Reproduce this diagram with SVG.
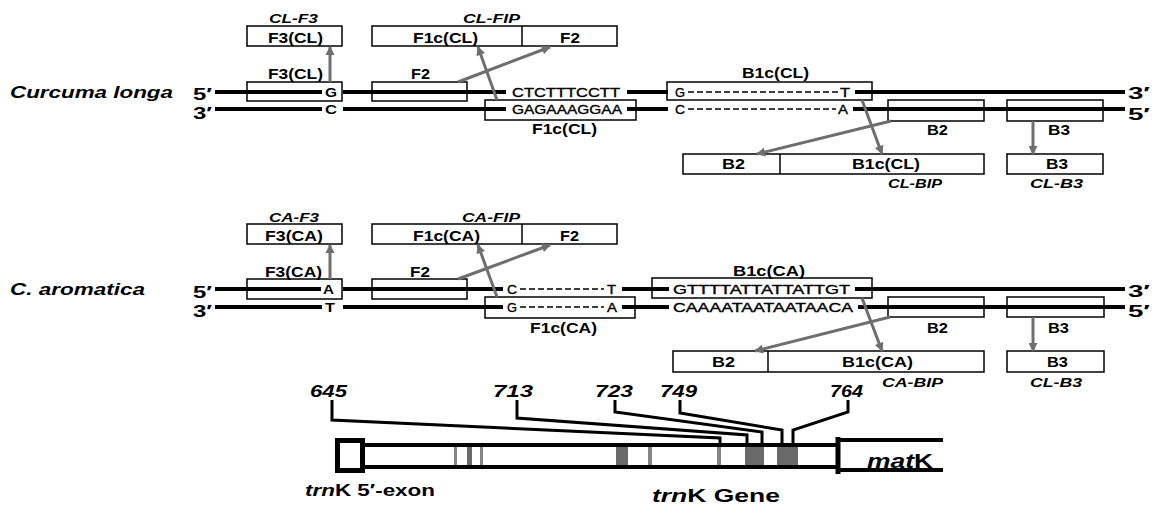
<svg xmlns="http://www.w3.org/2000/svg" width="1154" height="507" viewBox="0 0 1154 507">
<style>
.box{fill:none;stroke:#000;stroke-width:1.5}
.str{stroke:#000;stroke-width:4;fill:none}
.dash{stroke:#000;stroke-width:1.5;stroke-dasharray:6 3;fill:none}
.arr{stroke:#6e6e6e;stroke-width:3;fill:none;marker-end:url(#ah)}
.lead{stroke:#000;stroke-width:3;fill:none}
.gene{stroke:#000;stroke-width:4;fill:none}
.bar{fill:#6a6a6a}
.bar2{fill:#858585}
text{font-family:"Liberation Sans",Arial,sans-serif;font-weight:bold;font-size:14px;fill:#000}
.it{font-style:italic}
.sm{font-size:13px}
.seq{font-weight:normal;font-size:13px;stroke:#000;stroke-width:0.35}
.big{font-size:17px}
.pr{font-size:16px}
</style>
<defs>
<marker id="ah" viewBox="0 0 10 10" refX="9" refY="5" markerWidth="10" markerHeight="9" markerUnits="userSpaceOnUse" orient="auto">
<path d="M0,0 L10,5 L0,10 Z" fill="#6e6e6e"/>
</marker>
</defs>

<!-- Curcuma longa -->
<g id="cl-strands">
<text class="big it" x="10" y="98" textLength="163" lengthAdjust="spacingAndGlyphs">Curcuma longa</text>
<text class="pr" x="193" y="100" textLength="19" lengthAdjust="spacingAndGlyphs">5′</text>
<text class="pr" x="193" y="119" textLength="19" lengthAdjust="spacingAndGlyphs">3′</text>
<text class="pr" x="1128" y="99" textLength="22" lengthAdjust="spacingAndGlyphs">3′</text>
<text class="pr" x="1128" y="120" textLength="22" lengthAdjust="spacingAndGlyphs">5′</text>
<path class="str" d="M215,92 H322 M343,92 H506 M627,92 H668 M855,92 H1125"/>
<path class="str" d="M215,109 H322 M343,109 H506 M627,109 H668 M853,109 H1125"/>
<path class="dash" d="M688,92 H838 M688,109 H836"/>
<text class="seq" x="512" y="97" textLength="108" lengthAdjust="spacingAndGlyphs">CTCTTTCCTT</text>
<text class="seq" x="512" y="114" textLength="110" lengthAdjust="spacingAndGlyphs">GAGAAAGGAA</text>
<text class="seq" x="675" y="97" textLength="10" lengthAdjust="spacingAndGlyphs">G</text>
<text class="seq" x="840" y="97" textLength="10" lengthAdjust="spacingAndGlyphs">T</text>
<text class="seq" x="675" y="114" textLength="10" lengthAdjust="spacingAndGlyphs">C</text>
<text class="seq" x="838" y="114" textLength="10" lengthAdjust="spacingAndGlyphs">A</text>
</g>
<g id="cl-f3-primer">
<text class="sm it" x="269" y="23" textLength="49" lengthAdjust="spacingAndGlyphs">CL-F3</text>
<rect class="box" x="247" y="26" width="95" height="20"/>
<text x="268" y="43" textLength="55" lengthAdjust="spacingAndGlyphs">F3(CL)</text>
</g>
<g id="cl-f3-site">
<rect class="box" x="247" y="82" width="95" height="19"/>
<text x="268" y="79" textLength="55" lengthAdjust="spacingAndGlyphs">F3(CL)</text>
<text class="sm" x="325" y="97" textLength="12" lengthAdjust="spacingAndGlyphs">G</text>
<text class="sm" x="325" y="114" textLength="12" lengthAdjust="spacingAndGlyphs">C</text>
</g>
<g id="cl-fip">
<text class="sm it" x="463" y="23" textLength="57" lengthAdjust="spacingAndGlyphs">CL-FIP</text>
<rect class="box" x="372" y="26" width="245" height="20"/>
<path class="box" d="M522,26 V46"/>
<text x="413" y="43" textLength="65" lengthAdjust="spacingAndGlyphs">F1c(CL)</text>
<text x="560" y="43" textLength="20" lengthAdjust="spacingAndGlyphs">F2</text>
</g>
<g id="cl-f2-site">
<rect class="box" x="372" y="82" width="95" height="19"/>
<text x="411" y="79" textLength="19" lengthAdjust="spacingAndGlyphs">F2</text>
</g>
<g id="cl-f1c-site">
<rect class="box" x="485" y="100" width="151" height="20"/>
<text x="532" y="134" textLength="65" lengthAdjust="spacingAndGlyphs">F1c(CL)</text>
</g>
<g id="cl-b1c-site">
<rect class="box" x="667" y="82" width="205" height="18"/>
<text x="742" y="78" textLength="67" lengthAdjust="spacingAndGlyphs">B1c(CL)</text>
</g>
<g id="cl-b2-site">
<rect class="box" x="888" y="100" width="96" height="21"/>
<text x="927" y="135" textLength="21" lengthAdjust="spacingAndGlyphs">B2</text>
</g>
<g id="cl-b3-site">
<rect class="box" x="1007" y="100" width="96" height="21"/>
<text x="1048" y="135" textLength="22" lengthAdjust="spacingAndGlyphs">B3</text>
</g>
<g id="cl-bip">
<rect class="box" x="683" y="154" width="301" height="20"/>
<path class="box" d="M780,154 V174"/>
<text x="722" y="169" textLength="23" lengthAdjust="spacingAndGlyphs">B2</text>
<text x="852" y="169" textLength="68" lengthAdjust="spacingAndGlyphs">B1c(CL)</text>
<text class="sm it" x="888" y="188" textLength="54" lengthAdjust="spacingAndGlyphs">CL-BIP</text>
</g>
<g id="cl-b3-primer">
<rect class="box" x="1007" y="154" width="96" height="20"/>
<text x="1046" y="169" textLength="22" lengthAdjust="spacingAndGlyphs">B3</text>
<text class="sm it" x="1030" y="188" textLength="53" lengthAdjust="spacingAndGlyphs">CL-B3</text>
</g>

<!-- C. aromatica -->
<g id="ca-strands">
<text class="big it" x="10" y="295" textLength="135" lengthAdjust="spacingAndGlyphs">C. aromatica</text>
<text class="pr" x="193" y="298" textLength="19" lengthAdjust="spacingAndGlyphs">5′</text>
<text class="pr" x="193" y="317" textLength="19" lengthAdjust="spacingAndGlyphs">3′</text>
<text class="pr" x="1128" y="297" textLength="22" lengthAdjust="spacingAndGlyphs">3′</text>
<text class="pr" x="1128" y="317" textLength="22" lengthAdjust="spacingAndGlyphs">5′</text>
<path class="str" d="M215,289 H321 M343,289 H503 M622,289 H669 M855,289 H1125"/>
<path class="str" d="M215,307 H322 M343,307 H503 M622,307 H669 M858,307 H1125"/>
<path class="dash" d="M520,289 H604 M520,307 H604"/>
<text class="seq" x="507" y="294" textLength="10" lengthAdjust="spacingAndGlyphs">C</text>
<text class="seq" x="607" y="294" textLength="9" lengthAdjust="spacingAndGlyphs">T</text>
<text class="seq" x="507" y="312" textLength="10" lengthAdjust="spacingAndGlyphs">G</text>
<text class="seq" x="607" y="312" textLength="10" lengthAdjust="spacingAndGlyphs">A</text>
<text class="seq" x="673" y="294" textLength="177" lengthAdjust="spacingAndGlyphs">GTTTTATTATTATTGT</text>
<text class="seq" x="673" y="312" textLength="180" lengthAdjust="spacingAndGlyphs">CAAAATAATAATAACA</text>
</g>
<g id="ca-f3-primer">
<text class="sm it" x="269" y="222" textLength="50" lengthAdjust="spacingAndGlyphs">CA-F3</text>
<rect class="box" x="247" y="224" width="95" height="20"/>
<text x="265" y="241" textLength="58" lengthAdjust="spacingAndGlyphs">F3(CA)</text>
</g>
<g id="ca-f3-site">
<rect class="box" x="247" y="279" width="95" height="20"/>
<text x="265" y="277" textLength="57" lengthAdjust="spacingAndGlyphs">F3(CA)</text>
<text class="sm" x="323" y="294" textLength="11" lengthAdjust="spacingAndGlyphs">A</text>
<text class="sm" x="325" y="312" textLength="10" lengthAdjust="spacingAndGlyphs">T</text>
</g>
<g id="ca-fip">
<text class="sm it" x="462" y="222" textLength="58" lengthAdjust="spacingAndGlyphs">CA-FIP</text>
<rect class="box" x="372" y="224" width="245" height="20"/>
<path class="box" d="M522,224 V244"/>
<text x="413" y="241" textLength="67" lengthAdjust="spacingAndGlyphs">F1c(CA)</text>
<text x="560" y="241" textLength="19" lengthAdjust="spacingAndGlyphs">F2</text>
</g>
<g id="ca-f2-site">
<rect class="box" x="372" y="279" width="95" height="20"/>
<text x="410" y="277" textLength="20" lengthAdjust="spacingAndGlyphs">F2</text>
</g>
<g id="ca-f1c-site">
<rect class="box" x="485" y="297" width="150" height="21"/>
<text x="530" y="333" textLength="67" lengthAdjust="spacingAndGlyphs">F1c(CA)</text>
</g>
<g id="ca-b1c-site">
<rect class="box" x="652" y="278" width="220" height="20"/>
<text x="733" y="276" textLength="72" lengthAdjust="spacingAndGlyphs">B1c(CA)</text>
</g>
<g id="ca-b2-site">
<rect class="box" x="888" y="297" width="96" height="20"/>
<text x="927" y="333" textLength="21" lengthAdjust="spacingAndGlyphs">B2</text>
</g>
<g id="ca-b3-site">
<rect class="box" x="1007" y="297" width="97" height="20"/>
<text x="1048" y="333" textLength="21" lengthAdjust="spacingAndGlyphs">B3</text>
</g>
<g id="ca-bip">
<rect class="box" x="673" y="351" width="311" height="21"/>
<path class="box" d="M768,351 V372"/>
<text x="712" y="367" textLength="23" lengthAdjust="spacingAndGlyphs">B2</text>
<text x="842" y="367" textLength="71" lengthAdjust="spacingAndGlyphs">B1c(CA)</text>
<text class="sm it" x="882" y="387" textLength="61" lengthAdjust="spacingAndGlyphs">CA-BIP</text>
</g>
<g id="ca-b3-primer">
<rect class="box" x="1007" y="351" width="97" height="21"/>
<text x="1047" y="367" textLength="21" lengthAdjust="spacingAndGlyphs">B3</text>
<text class="sm it" x="1030" y="387" textLength="52" lengthAdjust="spacingAndGlyphs">CL-B3</text>
</g>

<!-- connectors -->
<g id="connectors">
<path class="arr" d="M330,82 L330,47"/>
<path class="arr" d="M497,100 L478,47"/>
<path class="arr" d="M458,82 L550,47"/>
<path class="arr" d="M862,100 L882,154"/>
<path class="arr" d="M891,121 L757,154"/>
<path class="arr" d="M1033,121 L1033,154"/>
<path class="arr" d="M330,279 L330,245"/>
<path class="arr" d="M497,297 L478,245"/>
<path class="arr" d="M458,279 L550,245"/>
<path class="arr" d="M862,298 L882,351"/>
<path class="arr" d="M890,317 L755,351"/>
<path class="arr" d="M1033,317 L1033,351"/>
<path class="lead" d="M332,400 V420 L720,438 V446"/>
<path class="lead" d="M517,400 V418 L747,435 V446"/>
<path class="lead" d="M615,400 V412 L762,432 V446"/>
<path class="lead" d="M680,400 V413 L782,430 V446"/>
<path class="lead" d="M848,400 V412 L793,430 V446"/>
</g>

<!-- gene map -->
<g id="gene">
<rect class="bar2" x="454" y="447" width="3" height="19"/>
<rect class="bar" x="467" y="447" width="5" height="19"/>
<rect class="bar2" x="480" y="447" width="3" height="19"/>
<rect class="bar" x="616" y="447" width="12" height="19"/>
<rect class="bar2" x="648" y="447" width="4" height="19"/>
<rect class="bar2" x="717" y="447" width="4" height="19"/>
<rect class="bar" x="745" y="447" width="19" height="19"/>
<rect class="bar" x="777" y="447" width="21" height="19"/>
<path class="gene" d="M364,445 H838 M364,467 H838"/>
<rect x="337.5" y="440.5" width="25" height="30" fill="#fff" stroke="#000" stroke-width="5"/>
<path class="gene" d="M838,440 H943 M838,470 H943"/>
<path d="M838,437 V474" stroke="#000" stroke-width="5"/>
<text class="it" x="310" y="397" style="font-size:16px" textLength="37" lengthAdjust="spacingAndGlyphs">645</text>
<text class="it" x="493" y="397" style="font-size:16px" textLength="40" lengthAdjust="spacingAndGlyphs">713</text>
<text class="it" x="595" y="397" style="font-size:16px" textLength="38" lengthAdjust="spacingAndGlyphs">723</text>
<text class="it" x="660" y="397" style="font-size:16px" textLength="37" lengthAdjust="spacingAndGlyphs">749</text>
<text class="it" x="830" y="397" style="font-size:16px" textLength="33" lengthAdjust="spacingAndGlyphs">764</text>
<text x="867" y="468" style="font-size:20px" textLength="66" lengthAdjust="spacingAndGlyphs"><tspan class="it">mat</tspan>K</text>
<text x="305" y="496" style="font-size:16px" textLength="130" lengthAdjust="spacingAndGlyphs"><tspan class="it">trn</tspan>K 5′-exon</text>
<text x="652" y="502" style="font-size:19px" textLength="128" lengthAdjust="spacingAndGlyphs"><tspan class="it">trn</tspan>K Gene</text>
</g>
</svg>
